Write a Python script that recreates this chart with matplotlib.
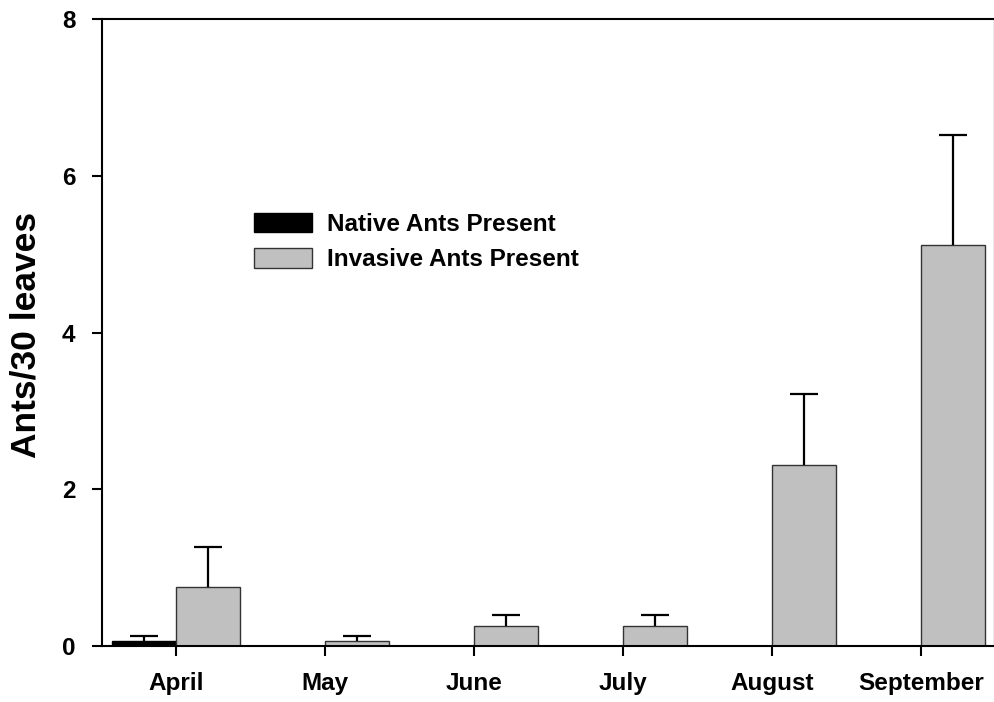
import matplotlib
matplotlib.use("Agg")
import matplotlib.pyplot as plt
import numpy as np

months = ["April", "May", "June", "July", "August", "September"]
native_mean = [0.07, 0.0, 0.0, 0.0, 0.0, 0.0]
native_err = [0.06, 0.0, 0.0, 0.0, 0.0, 0.0]
invasive_mean = [0.75, 0.07, 0.25, 0.25, 2.31, 5.12]
invasive_err = [0.51, 0.06, 0.15, 0.15, 0.90, 1.40]
y_ticks = [0, 2, 4, 6, 8]

plt.rcParams["font.family"] = ["Liberation Sans", "DejaVu Sans"]
plt.rcParams["font.weight"] = "bold"

W, H = 995, 702
fig = plt.figure(figsize=(W / 100, H / 100), dpi=100)
ax = fig.add_axes([102 / W, (H - 646) / H, (994 - 102) / W, (646 - 19) / H])

x = np.arange(len(months))
bw = 0.43
cap = 0.095


def upper_errorbars(xpos, means, errs):
    """Draw one-sided (upper) error bars with a cap."""
    xpos = np.asarray(xpos, float)
    means = np.asarray(means, float)
    errs = np.asarray(errs, float)
    ax.vlines(xpos, means, means + errs, color="black", linewidth=1.6, zorder=3)
    ax.hlines(means + errs, xpos - cap, xpos + cap, color="black", linewidth=1.6, zorder=3)


# Native bars only where ants were found
nat_mask = np.array(native_mean) > 0
ax.bar(x[nat_mask] - bw / 2, np.array(native_mean)[nat_mask], bw,
       color="black", edgecolor="black", linewidth=1, label="Native Ants Present", zorder=2)
upper_errorbars(x[nat_mask] - bw / 2, np.array(native_mean)[nat_mask],
                np.array(native_err)[nat_mask])

ax.bar(x + bw / 2, invasive_mean, bw, color="#c0c0c0", edgecolor="#333333",
       linewidth=1, label="Invasive Ants Present", zorder=2)
upper_errorbars(x + bw / 2, invasive_mean, invasive_err)

ax.set_xlim(-0.497, 5.49)
ax.set_ylim(0, 8)
ax.set_xticks(x)
ax.set_xticklabels(months, fontsize=17.5, fontweight="bold")
ax.set_yticks(y_ticks)
ax.set_yticklabels([str(t) for t in y_ticks], fontsize=17.5, fontweight="bold")
ax.tick_params(axis="both", direction="out", length=7, width=1.5)
ax.tick_params(axis="x", pad=12)
ax.tick_params(axis="y", pad=12)

for side in ["left", "bottom", "top"]:
    ax.spines[side].set_linewidth(1.5)
    ax.spines[side].set_color("black")
ax.spines["right"].set_linewidth(1)
ax.spines["right"].set_color("#999999")

ax.set_ylabel("Ants/30 leaves", fontsize=25.5, fontweight="bold")
ax.yaxis.set_label_coords((26 - 102) / 892, (646 - 335) / 627, transform=ax.transAxes)
ax.yaxis.label.set_va("center")

leg = ax.legend(loc="upper left", bbox_to_anchor=(254 / W, (H - 213) / H),
                bbox_transform=fig.transFigure, frameon=False, fontsize=17.5,
                handlelength=2.4, handleheight=0.85, handletextpad=0.6,
                labelspacing=0.5, borderpad=0, borderaxespad=0)
for t in leg.get_texts():
    t.set_fontweight("bold")

fig.savefig("out.png", dpi=100)
